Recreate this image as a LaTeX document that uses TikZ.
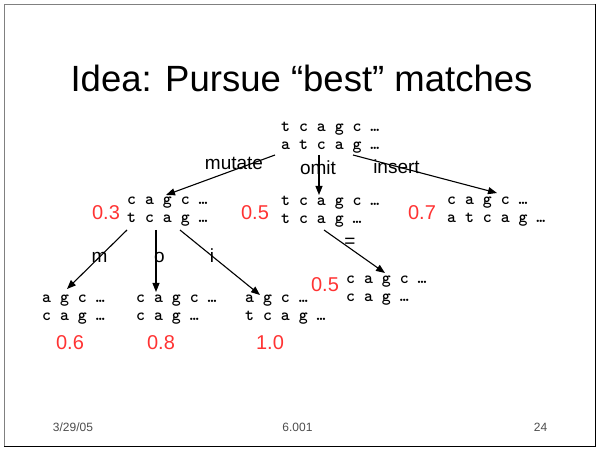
\documentclass[tikz,border=0pt]{standalone}
\usepackage{fontspec}
\setmainfont{Liberation Sans}
\usetikzlibrary{calc,arrows.meta}
\definecolor{scorered}{RGB}{255,51,51}
\definecolor{footgray}{RGB}{77,77,77}
\begin{document}
\begin{tikzpicture}[x=1pt,y=-1pt,
 seq/.style={anchor=west,inner sep=0pt,align=left,font=\ttfamily\bfseries\fontsize{17}{18}\selectfont},
 score/.style={inner sep=0pt,text=scorered,font=\fontsize{20}{24}\selectfont},
 oplabel/.style={anchor=base,inner sep=0pt,font=\fontsize{19}{23}\selectfont},
 arr/.style={-{Triangle[length=9pt,width=7pt]},line width=1.1pt},
 foot/.style={anchor=base,inner sep=0pt,text=footgray,font=\fontsize{12}{14}\selectfont}]
\useasboundingbox (0,0) rectangle (600,449);
\fill[white] (0,0) rectangle (600,449);
% slide frame
\draw[gray,line width=0.8pt] (4,4) rectangle (595,446);
\draw[black,line width=1.5pt] (595.5,4) -- (595.5,446.5) -- (4,446.5);
% title
\node[anchor=base,inner sep=0pt,font=\fontsize{36.5}{44}\selectfont] (title) at (301.5,92) {Idea: Pursue “best” matches};
% sequence nodes
\node[seq] (root) at (281,137.5) {t c a g c …\\a t c a g …};
\node[seq] (n1) at (127,211.5) {c a g c …\\t c a g …};
\node[seq] (n2) at (281,211.5) {t c a g c …\\t c a g …};
\node[seq] (n3) at (447,211.5) {c a g c …\\a t c a g …};
\node[seq] (n4) at (42,310) {a g c …\\c a g …};
\node[seq] (n5) at (136,310) {c a g c …\\c a g …};
\node[seq] (n6) at (245,310) {a g c …\\t c a g …};
\node[seq] (n7) at (346,290.5) {c a g c …\\c a g …};
% scores
\node[score] (s1) at (106,213) {0.3};
\node[score] (s2) at (255,213) {0.5};
\node[score] (s3) at (422,213) {0.7};
\node[score] (s4) at (70,343) {0.6};
\node[score] (s5) at (161,343) {0.8};
\node[score] (s6) at (270,343) {1.0};
\node[score] (s7) at (325,285) {0.5};
% connectors
\draw[arr] ($(root.west)+(-6,17.5)$) -- ($(n1.west)+(39,-16.5)$);
\draw[arr] ($(root.west)+(38,17.5)$) -- ($(n2.west)+(38,-16.5)$);
\draw[arr] ($(root.west)+(72,17.5)$) -- ($(n3.west)+(50,-18.5)$);
\draw[arr] ($(n1.west)+(0,18.5)$) -- ($(n4.west)+(25,-21)$);
\draw[arr] ($(n1.west)+(29,18.5)$) -- ($(n5.west)+(20,-18)$);
\draw[arr] ($(n1.west)+(53,18.5)$) -- ($(n6.west)+(15,-15)$);
\draw[arr] ($(n2.west)+(43,18.5)$) -- ($(n7.west)+(39,-17.5)$);
% operation labels
\node[oplabel] (lmut) at (234,170) {mutate};
\node[oplabel] (lomit) at (318,175) {omit};
\node[oplabel] (lins) at (396.5,174) {insert};
\node[oplabel] (lm) at (99.5,262) {m};
\node[oplabel] (lo) at (159.5,262) {o};
\node[oplabel] (li) at (212,262) {i};
\node[inner sep=0pt,font=\fontsize{19}{23}\selectfont] (leq) at (350,243) {=};
% footer
\node[foot] (date) at (73,431) {3/29/05};
\node[foot] (course) at (297.5,431) {6.001};
\node[foot] (page) at (540.5,431) {24};
\end{tikzpicture}
\end{document}
